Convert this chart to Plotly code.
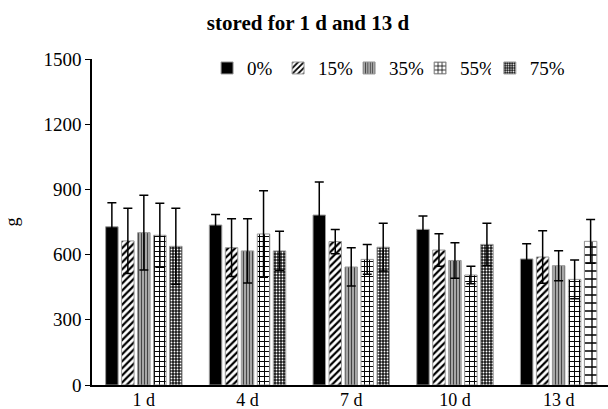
import plotly.graph_objects as go

categories = ["1 d", "4 d", "7 d", "10 d", "13 d"]
series_names = ["0%", "15%", "35%", "55%", "75%"]

v0 = [728, 736, 782, 716, 580]
v15 = [663, 632, 660, 621, 589]
v35 = [701, 617, 543, 573, 549]
v55 = [689, 695, 578, 506, 486]
v75 = [638, 617, 634, 647, 661]

e0 = [110, 48, 152, 62, 70]
e15 = [150, 133, 56, 75, 121]
e35 = [172, 148, 88, 82, 69]
e55 = [147, 199, 68, 40, 89]
e75 = [175, 90, 110, 97, 101]

values = [v0, v15, v35, v55, v75]
errors = [e0, e15, e35, e55, e75]

patterns = [
    dict(shape=""),
    dict(shape="/", size=5, solidity=0.45, fgcolor="black", bgcolor="white", fillmode="replace"),
    dict(shape="|", size=3, solidity=0.45, fgcolor="#444", bgcolor="#bbb", fillmode="replace"),
    dict(shape="+", size=5, solidity=0.35, fgcolor="black", bgcolor="white", fillmode="replace"),
    dict(shape=".", size=3, solidity=0.3, fgcolor="white", bgcolor="#1a1a1a", fillmode="replace"),
]
colors = ["black", "white", "#bbb", "white", "#1a1a1a"]
brick = dict(shape="+", size=8, solidity=0.3, fgcolor="black", bgcolor="white", fillmode="replace")

FONT = "Liberation Serif"
groups = ["a", "b", "c", "d", "e"]
legend_refs = ["legend", "legend", "legend", "legend", "legend2"]

fig = go.Figure()
for i, (name, vals, errs, pat, col) in enumerate(zip(series_names, values, errors, patterns, colors)):
    y = list(vals)
    ey = list(errs)
    if i == 4:
        y[4] = None
        ey[4] = 0
    fig.add_trace(go.Bar(
        x=categories, y=y, name=name, offsetgroup=groups[i], legend=legend_refs[i],
        marker=dict(color=col, pattern=pat, line=dict(color="#999", width=1)),
        error_y=dict(type="data", array=ey, visible=True, color="black", thickness=1.5, width=4.5),
    ))
# 13 d, 75% bar drawn with a brick-like fill in the same slot
fig.add_trace(go.Bar(
    x=[categories[4]], y=[v75[4]], name=series_names[4], offsetgroup=groups[4], showlegend=False,
    marker=dict(color="white", pattern=brick, line=dict(color="#999", width=1)),
    error_y=dict(type="data", array=[e75[4]], visible=True, color="black", thickness=1.5, width=4.5),
))

legend_common = dict(orientation="h", xanchor="left", y=0.972, yanchor="middle",
                     font=dict(family=FONT, size=19, color="black"), bgcolor="rgba(0,0,0,0)",
                     traceorder="normal", itemwidth=30)

fig.update_layout(
    width=608, height=409,
    margin=dict(l=92, r=0, t=59, b=24),
    paper_bgcolor="white", plot_bgcolor="white",
    barmode="group", bargap=0.229, bargroupgap=0.22,
    font=dict(family=FONT, size=18, color="black"),
    title=dict(text="<b>stored for 1 d and 13 d</b>", x=308 / 608, xref="container", xanchor="center",
               y=1 - 23 / 409, yref="container", yanchor="middle",
               font=dict(family=FONT, size=21, color="black")),
    legend=dict(x=0.223, entrywidth=26, **legend_common),
    legend2=dict(x=0.771, **legend_common),
    showlegend=True,
)
fig.update_xaxes(range=[-0.5, 4.476], showline=True, linecolor="black", linewidth=1.5,
                 ticks="", showgrid=False, zeroline=False, automargin=False,
                 ticklabelstandoff=-2,
                 tickfont=dict(family=FONT, size=18))
fig.update_yaxes(range=[0, 1500], tickvals=[0, 300, 600, 900, 1200, 1500],
                 showline=True, linecolor="black", linewidth=1.5, ticks="outside", ticklen=5,
                 tickcolor="black", showgrid=False, zeroline=False, automargin=False,
                 title=dict(text="g", font=dict(family=FONT, size=18), standoff=20),
                 tickfont=dict(family=FONT, size=19))

fig.write_html("out.html")
